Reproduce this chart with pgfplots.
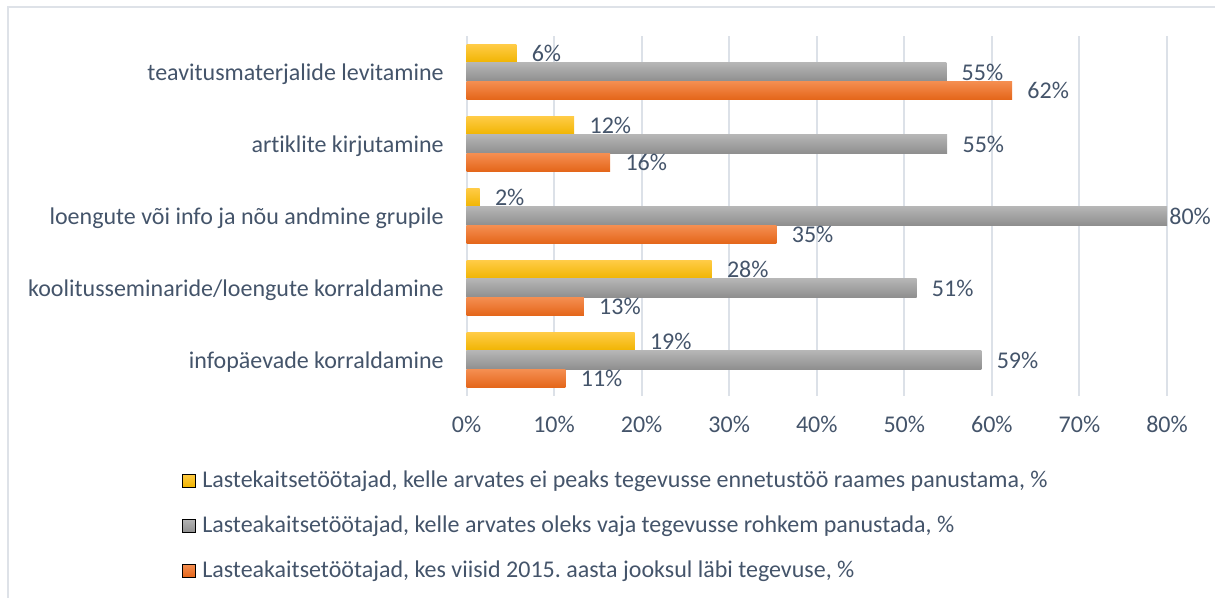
\documentclass[border=0pt]{standalone}
\usepackage{fontspec}
\setmainfont{Carlito}[Ligatures={NoCommon}]
\usepackage{pgfplots}
\pgfplotsset{compat=1.18}
\usepackage{pgfplotstable}
\definecolor{txt}{HTML}{44546A}
\definecolor{gridc}{HTML}{DCE1E8}
\definecolor{framec}{HTML}{DEE2E8}
\definecolor{ytop}{HTML}{FFCB45}
\definecolor{ybot}{HTML}{F0B400}
\definecolor{gtop}{HTML}{B5B5B5}
\definecolor{gbot}{HTML}{8F8F8F}
\definecolor{otop}{HTML}{F58F52}
\definecolor{obot}{HTML}{E4661A}

\pgfplotstableread{
v idx
19.2 0
28.0 1
1.5 2
12.3 3
5.7 4
}\yellowdata
\pgfplotstableread{
v idx dx
58.8 0 0
51.4 1 0
80.0 2 -6.5
54.9 3 0
54.8 4 0
}\graydata
\pgfplotstableread{
v idx
11.3 0
13.4 1
35.4 2
16.4 3
62.3 4
}\orangedata

\newcommand{\cf}{\fontsize{12bp}{14bp}\selectfont}
% one bar of each series per category, so that each bar gets its own gradient
\newcommand{\catbars}[1]{%
  \addplot[forget plot, draw=none, top color=ytop, bottom color=ybot, bar shift=9.1bp,
    restrict y to domain=#1]
    table[x=v, y=idx] {\yellowdata};
  \addplot[forget plot, draw=none, top color=gtop, bottom color=gbot, bar shift=0bp,
    restrict y to domain=#1,
    visualization depends on={\thisrow{dx} \as \dx},
    nodes near coords style={xshift=\dx*1bp}]
    table[x=v, y=idx] {\graydata};
  \addplot[forget plot, draw=none, top color=otop, bottom color=obot, bar shift=-9.1bp,
    restrict y to domain=#1]
    table[x=v, y=idx] {\orangedata};
}

\begin{document}
\begin{tikzpicture}
\path[use as bounding box] (0,0) rectangle (607.5bp,299bp);
\draw[framec, line width=1bp] (4bp,0) -- (4bp,295.6bp) -- (607.5bp,295.6bp);
\begin{axis}[
  at={(233.25bp,101bp)}, anchor=south west,
  scale only axis, width=350.25bp, height=180bp,
  xbar, bar width=9.1bp,
  xmin=0, xmax=80, ymin=-0.5, ymax=4.5,
  axis line style={draw=none},
  xmajorgrids, grid style={gridc, line width=1bp},
  major tick length=0pt,
  /pgf/number format/assume math mode=true,
  xtick={0,10,20,30,40,50,60,70,80},
  xticklabels={0\%,10\%,20\%,30\%,40\%,50\%,60\%,70\%,80\%},
  ytick={0,1,2,3,4},
  yticklabels={infopäevade korraldamine, koolitusseminaride/loengute korraldamine, loengute või info ja nõu andmine grupile, artiklite kirjutamine, teavitusmaterjalide levitamine},
  tick label style={font=\cf, text=txt},
  xticklabel style={anchor=base, inner sep=0pt, yshift=-18.25bp},
  yticklabel style={anchor=base east, inner sep=0pt, xshift=-11.25bp, yshift=-4bp},
  nodes near coords={\pgfmathprintnumber[fixed,precision=0]{\pgfplotspointmeta}\%},
  nodes near coords style={font=\cf, text=txt, inner sep=0pt, anchor=west, xshift=7.5bp},
  legend cell align=left,
  legend style={at={(0,0)}, anchor=north west, xshift=-142.25bp, yshift=-36.75bp,
    draw=none, fill=none, inner sep=0pt, outer sep=0pt, row sep=10.5bp, column sep=3.25bp,
    font=\cf, text=txt, nodes={inner sep=0pt, text height=9bp, text depth=3bp}},
]
\catbars{-0.2:0.2}
\catbars{0.8:1.2}
\catbars{1.8:2.2}
\catbars{2.8:3.2}
\catbars{3.8:4.2}
\addlegendimage{legend image code/.code={\path[top color=ytop,bottom color=ybot] (0bp,-2.75bp) rectangle (6.5bp,3.75bp);}}
\addlegendentry{Lastekaitsetöötajad, kelle arvates ei peaks tegevusse ennetustöö raames panustama, \%}
\addlegendimage{legend image code/.code={\path[top color=gtop,bottom color=gbot] (0bp,-2.75bp) rectangle (6.5bp,3.75bp);}}
\addlegendentry{Lasteakaitsetöötajad, kelle arvates oleks vaja tegevusse rohkem panustada, \%}
\addlegendimage{legend image code/.code={\path[top color=otop,bottom color=obot] (0bp,-2.75bp) rectangle (6.5bp,3.75bp);}}
\addlegendentry{Lasteakaitsetöötajad, kes viisid 2015.\ aasta jooksul läbi tegevuse, \%}
\end{axis}
\end{tikzpicture}
\end{document}
